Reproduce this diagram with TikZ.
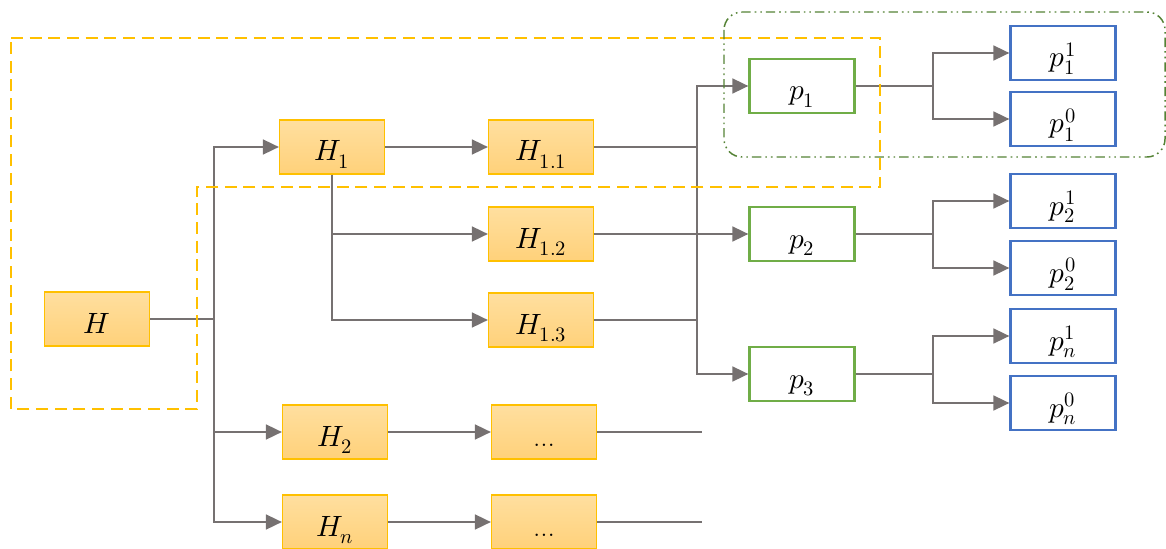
\documentclass[tikz,border=0pt]{standalone}
\usepackage{unicode-math}
\setmathfont{Latin Modern Math}
\usetikzlibrary{arrows.meta}
\definecolor{htop}{HTML}{FFDF9F}
\definecolor{hbot}{HTML}{FFD17A}
\definecolor{hline}{HTML}{FFC000}
\definecolor{gline}{HTML}{70AD47}
\definecolor{bline}{HTML}{4472C4}
\definecolor{conn}{HTML}{767171}
\definecolor{gdark}{HTML}{548235}
\tikzset{
	hbox/.style={rectangle,draw=hline,line width=0.8pt,top color=htop,bottom color=hbot,
		minimum width=78.75pt,minimum height=40.5pt,inner sep=0pt,text height=22pt,text depth=1pt},
	pbox/.style={rectangle,draw=gline,line width=1.6pt,fill=white,
		minimum width=78.75pt,minimum height=40.5pt,inner sep=0pt,text height=22pt,text depth=1pt},
	leafbox/.style={rectangle,draw=bline,line width=1.6pt,fill=white,
		minimum width=78.75pt,minimum height=40pt,inner sep=0pt,text height=22pt,text depth=1pt},
	link/.style={draw=conn,line width=1.9pt},
	hdash/.style={draw=hline,line width=1.8pt,dash pattern=on 9pt off 5pt},
	gdash/.style={draw=gdark,line width=1.1pt,dash pattern=on 7pt off 3pt on 1.2pt off 3pt on 1.2pt off 3pt}
}
\begin{document}
\begin{tikzpicture}[x=0.75pt,y=-0.75pt,font=\fontsize{22}{26}\selectfont,
	>={Triangle[length=12pt,width=11pt]}]
	\useasboundingbox (0,0) rectangle (1166,549);
	\begin{scope}[every node/.style={hbox}]
		\node (H) at (97,319) {$H$};
		\node (H1) at (332,147) {$H_1$};
		\node (H11) at (541,147) {$H_{1.1}$};
		\node (H12) at (541,234) {$H_{1.2}$};
		\node (H13) at (541,320) {$H_{1.3}$};
		\node (H2) at (335,432) {$H_2$};
		\node (D2) at (544,432) {...};
		\node (Hn) at (335,522) {$H_n$};
		\node (Dn) at (544,522) {...};
	\end{scope}
	\begin{scope}[every node/.style={pbox}]
		\node (p1) at (802,86) {$p_1$};
		\node (p2) at (802,234) {$p_2$};
		\node (p3) at (802,374) {$p_3$};
	\end{scope}
	\begin{scope}[every node/.style={leafbox}]
		\node (p11) at (1063,53) {$p_1^1$};
		\node (p10) at (1063,119) {$p_1^0$};
		\node (p21) at (1063,201) {$p_2^1$};
		\node (p20) at (1063,268) {$p_2^0$};
		\node (pn1) at (1063,336) {$p_n^1$};
		\node (pn0) at (1063,403) {$p_n^0$};
	\end{scope}
	% junctions
	\coordinate (j0) at (214,319);
	\coordinate (j1) at (697,147);
	\coordinate (j3) at (697,320);
	\coordinate (e2) at (702,432);
	\coordinate (en) at (702,522);
	\coordinate (k1) at (933,86);
	\coordinate (k2) at (933,234);
	\coordinate (k3) at (933,374);
	\begin{scope}[every path/.style={link}]
		\path (H) edge (j0);
		\path [->] (j0) |- (H1);
		\path [->] (j0) |- (H2);
		\path [->] (j0) |- (Hn);
		\path [->] (H1) edge (H11);
		\path [->] (H1.south) |- (H12);
		\path [->] (H1.south) |- (H13);
		\path [->] (H2) edge (D2);
		\path [->] (Hn) edge (Dn);
		\path (D2) edge (e2);
		\path (Dn) edge (en);
		\path (H11) edge (j1);
		\path (H13) edge (j3);
		\path (j1) edge (j3);
		\path [->] (j1) |- (p1);
		\path [->] (j3) |- (p3);
		\path [->] (H12) edge (p2);
		\path (p1) edge (k1);
		\path (p2) edge (k2);
		\path (p3) edge (k3);
		\path [->] (k1) |- (p11);
		\path [->] (k1) |- (p10);
		\path [->] (k2) |- (p21);
		\path [->] (k2) |- (p20);
		\path [->] (k3) |- (pn1);
		\path [->] (k3) |- (pn0);
	\end{scope}
	% groups
	\draw [hdash] (11,38) -- (880,38) -- (880,187) -- (197,187) -- (197,409) -- (11,409) -- cycle;
	\draw [gdash,rounded corners=13.5pt] (724,12) rectangle (1165,157);
\end{tikzpicture}
\end{document}
